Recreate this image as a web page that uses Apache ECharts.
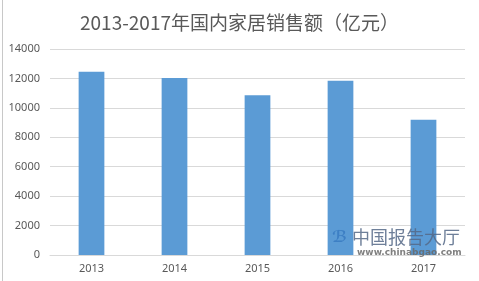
<!DOCTYPE html>
<html>
<head>
<meta charset="utf-8">
<script src="https://cdn.jsdelivr.net/npm/echarts@6/dist/echarts.min.js"></script>
<style>
html,body{margin:0;padding:0;background:#fff;}
#c{width:479px;height:281px;}
</style>
</head>
<body>
<div id="c"></div>
<script>
var titleText = '2013-2017年国内家居销售额（亿元）';
var categories = ['2013', '2014', '2015', '2016', '2017'];
var salesValues = [12450, 12030, 10850, 11850, 9200];
var yTicks = [0, 2000, 4000, 6000, 8000, 10000, 12000, 14000];

var chart = echarts.init(document.getElementById('c'), null, {renderer: 'canvas'});
chart.setOption({
  backgroundColor: '#fff',
  animation: false,
  title: {
    text: titleText,
    left: 'center',
    top: 8,
    textStyle: {fontFamily: 'Noto Sans CJK SC', fontSize: 19, fontWeight: 'normal', color: '#595959'}
  },
  grid: {left: 50, right: 14, top: 49, bottom: 26, containLabel: false},
  xAxis: {
    type: 'category',
    data: categories,
    axisLine: {lineStyle: {color: '#d9d9d9'}},
    axisTick: {show: false},
    axisLabel: {color: '#595959', fontSize: 11, fontFamily: 'Noto Sans', margin: 8}
  },
  yAxis: {
    type: 'value',
    min: yTicks[0],
    max: yTicks[yTicks.length - 1],
    interval: 2000,
    axisLine: {show: false},
    axisTick: {show: false},
    splitLine: {lineStyle: {color: '#d9d9d9'}},
    axisLabel: {color: '#595959', fontSize: 11, fontFamily: 'Noto Sans', margin: 10,
      formatter: function (v) { return String(v); }}
  },
  series: [{
    type: 'bar',
    data: salesValues,
    barWidth: '31%',
    itemStyle: {color: '#5b9bd5'}
  }],
  graphic: [
    {type: 'rect', left: 2, top: 0, z: 100, shape: {width: 1, height: 281}, style: {fill: '#c8c8c8'}, silent: true},
    {type: 'text', left: 332, top: 230, z: 100, style: {text: 'ℬ', fill: '#3d7fc4', font: 'italic bold 16px "DejaVu Sans"'}, silent: true},
    {type: 'text', left: 352, top: 228, z: 100, style: {text: '中国报告大厅', fill: 'rgba(85,105,135,0.85)', font: '18px "Noto Sans CJK SC"'}, silent: true},
    {type: 'text', left: 357, top: 248, z: 100, style: {text: 'www.chinabgao.com', fill: 'rgba(105,105,105,0.85)', font: 'bold 9px "DejaVu Sans"'}, silent: true}
  ]
});
</script>
</body>
</html>
